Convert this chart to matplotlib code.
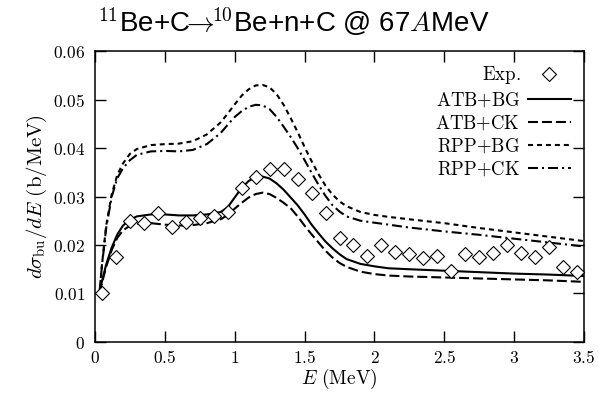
import numpy as np
import matplotlib
matplotlib.use("Agg")
import matplotlib.pyplot as plt

plt.rcParams["mathtext.fontset"] = "cm"

# experimental points
e_exp = [0.05, 0.15, 0.25, 0.35, 0.45, 0.55, 0.65, 0.75, 0.85, 0.95,
         1.05, 1.15, 1.25, 1.35, 1.45, 1.55, 1.65, 1.75, 1.85, 1.95,
         2.05, 2.15, 2.25, 2.35, 2.45, 2.55, 2.65, 2.75, 2.85, 2.95,
         3.05, 3.15, 3.25, 3.35, 3.45]
y_exp = [0.0100, 0.0176, 0.0250, 0.0245, 0.0267, 0.0238, 0.0247, 0.0256, 0.0260, 0.0268,
         0.0317, 0.0340, 0.0357, 0.0357, 0.0336, 0.0307, 0.0267, 0.0214, 0.0201, 0.0177,
         0.0200, 0.0186, 0.0181, 0.0173, 0.0177, 0.0147, 0.0181, 0.0175, 0.0183, 0.0201,
         0.0183, 0.0176, 0.0195, 0.0154, 0.0145]
err_exp = [0.0008] * len(e_exp)

# calculated curves
e_calc = [0.03, 0.05, 0.08, 0.12, 0.16, 0.2, 0.25, 0.3, 0.4, 0.5, 0.6, 0.7, 0.8, 0.9,
          0.95, 1.0, 1.05, 1.1, 1.15, 1.2, 1.25, 1.3, 1.35, 1.4, 1.45, 1.5, 1.55, 1.6,
          1.65, 1.7, 1.75, 1.8, 1.9, 2.0, 2.1, 2.25, 2.5, 2.75, 3.0, 3.25, 3.5]
atb_bg = [0.0100, 0.0125, 0.0160, 0.0195, 0.0222, 0.0240, 0.0252, 0.0259, 0.0263, 0.0263,
          0.0261, 0.0261, 0.0263, 0.0268, 0.0278, 0.0298, 0.0318, 0.0332, 0.0340, 0.0341,
          0.0337, 0.0327, 0.0314, 0.0298, 0.0282, 0.0263, 0.0242, 0.0224, 0.0207, 0.0193,
          0.0181, 0.0171, 0.0161, 0.0156, 0.0152, 0.0150, 0.0147, 0.0144, 0.0141, 0.0139,
          0.0136]
atb_ck = [0.0100, 0.0122, 0.0155, 0.0190, 0.0215, 0.0230, 0.0240, 0.0244, 0.0245, 0.0242,
          0.0240, 0.0241, 0.0245, 0.0253, 0.0262, 0.0275, 0.0287, 0.0298, 0.0305, 0.0308,
          0.0305, 0.0297, 0.0287, 0.0276, 0.0259, 0.0240, 0.0222, 0.0205, 0.0188, 0.0174,
          0.0163, 0.0155, 0.0145, 0.0140, 0.0137, 0.0135, 0.0133, 0.0131, 0.0129, 0.0127,
          0.0124]
rpp_bg = [0.0095, 0.0160, 0.0240, 0.0305, 0.0345, 0.0368, 0.0388, 0.0398, 0.0406, 0.0408,
          0.0409, 0.0414, 0.0428, 0.0453, 0.0471, 0.0490, 0.0508, 0.0521, 0.0529, 0.0530,
          0.0525, 0.0511, 0.0489, 0.0462, 0.0433, 0.0402, 0.0373, 0.0346, 0.0322, 0.0304,
          0.0290, 0.0280, 0.0268, 0.0262, 0.0258, 0.0253, 0.0245, 0.0235, 0.0226, 0.0217,
          0.0208]
rpp_ck = [0.0095, 0.0158, 0.0235, 0.0300, 0.0338, 0.0358, 0.0375, 0.0386, 0.0393, 0.0394,
          0.0393, 0.0396, 0.0408, 0.0431, 0.0448, 0.0464, 0.0476, 0.0485, 0.0489, 0.0488,
          0.0480, 0.0464, 0.0444, 0.0423, 0.0400, 0.0375, 0.0349, 0.0324, 0.0301, 0.0282,
          0.0269, 0.0259, 0.0250, 0.0246, 0.0242, 0.0236, 0.0228, 0.0221, 0.0213, 0.0205,
          0.0197]

fig = plt.figure(figsize=(5.99, 3.93), dpi=100)
ax = fig.add_axes([0.1586, 0.1298, 0.8164, 0.7404])

lw = 1.5
h_exp = ax.errorbar(e_exp, y_exp, yerr=err_exp, fmt="D", ms=6.8, mfc="white", mec="black",
                    mew=0.8, ecolor="black", elinewidth=0.8, capsize=0, zorder=3)
h1, = ax.plot(e_calc, atb_bg, color="black", lw=lw)
h2, = ax.plot(e_calc, atb_ck, color="black", lw=lw, dashes=(4.8, 1.9))
h3, = ax.plot(e_calc, rpp_bg, color="black", lw=lw, dashes=(2.4, 1.9))
h4, = ax.plot(e_calc, rpp_ck, color="black", lw=lw, dashes=(4.8, 1.9, 1.0, 1.9))

ax.set_xlim(0, 3.5)
ax.set_ylim(0, 0.06)
xt = [0, 0.5, 1, 1.5, 2, 2.5, 3, 3.5]
yt = [0, 0.01, 0.02, 0.03, 0.04, 0.05, 0.06]
ax.set_xticks(xt)
ax.set_xticklabels(["$%g$" % v for v in xt], fontsize=12.5)
ax.set_yticks(yt)
ax.set_yticklabels(["$%g$" % v for v in yt], fontsize=12.5)
ax.tick_params(direction="in", length=8, width=1.0, top=True, right=True)
ax.tick_params(axis="x", pad=5)
ax.tick_params(axis="y", pad=7)
for s in ax.spines.values():
    s.set_linewidth(1.1)

ax.set_xlabel(r"$E\ \mathrm{(MeV)}$", fontsize=14, labelpad=0)
ax.set_ylabel(r"$d\sigma_{\mathrm{bu}}/dE\ \mathrm{(b/MeV)}$", fontsize=15, labelpad=3)

labels = [r"$\mathrm{Exp.}$", r"$\mathrm{ATB{+}BG}$", r"$\mathrm{ATB{+}CK}$",
          r"$\mathrm{RPP{+}BG}$", r"$\mathrm{RPP{+}CK}$"]
leg = ax.legend([h_exp[0], h1, h2, h3, h4], labels, loc="upper right", frameon=False,
                markerfirst=False, fontsize=13.5, handlelength=2.3, handletextpad=0.4,
                labelspacing=0.22, borderaxespad=0.3, numpoints=1)
for t in leg.get_texts():
    t.set_ha("right")

fig.text(0.49, 0.945, r"$^{11}$Be+C$\!\!\rightarrow\!\!$$^{10}$Be+n+C @ 67$A$MeV",
         ha="center", va="center", fontsize=20, family="Liberation Sans")

fig.savefig("out.png", dpi=100)
